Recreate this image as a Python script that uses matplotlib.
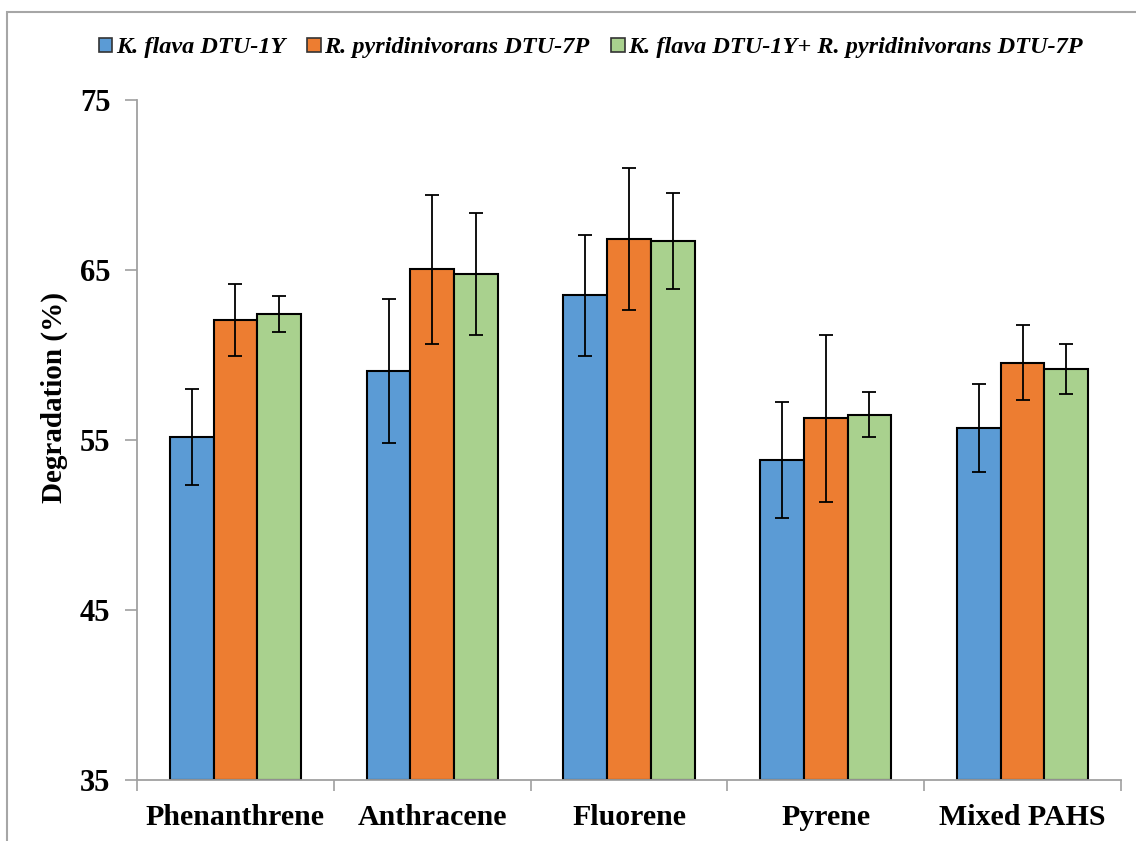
import numpy as np
import matplotlib.pyplot as plt
from matplotlib.patches import Rectangle
from matplotlib.ticker import FixedLocator

compounds = ["Phenanthrene", "Anthracene", "Fluorene", "Pyrene", "Mixed PAHS"]
series_names = ["K. flava DTU-1Y", "R. pyridinivorans DTU-7P",
                "K. flava DTU-1Y+ R. pyridinivorans DTU-7P"]

kflava = [55.18, 59.05, 63.51, 53.84, 55.69]
kflava_err = [2.80, 4.22, 3.55, 3.42, 2.60]
rpyr = [62.06, 65.04, 66.84, 56.28, 59.54]
rpyr_err = [2.10, 4.40, 4.17, 4.90, 2.20]
combo = [62.43, 64.77, 66.70, 56.50, 59.18]
combo_err = [1.05, 3.58, 2.83, 1.30, 1.49]

colors = ["#5B9BD5", "#ED7D31", "#A9D18E"]

plt.rcParams["font.family"] = ["Liberation Serif", "DejaVu Serif"]
plt.rcParams["font.weight"] = "bold"

fig = plt.figure(figsize=(11.36, 8.41), dpi=100)
ax = fig.add_axes([137 / 1136, 1 - 780 / 841, (1121 - 137) / 1136, 680 / 841])

x = np.arange(len(compounds))
width = 0.222
data = [(kflava, kflava_err), (rpyr, rpyr_err), (combo, combo_err)]
for i, (vals, errs) in enumerate(data):
    pos = x + (i - 1) * width
    ax.bar(pos, np.array(vals) - 35, width, bottom=35, color=colors[i],
           edgecolor="black", linewidth=1.5, label=series_names[i], zorder=2)
    ax.errorbar(pos, vals, yerr=errs, fmt="none", ecolor="black",
                elinewidth=1.3, capsize=5, capthick=1.3, zorder=3)

ax.set_xlim(-0.5, len(compounds) - 0.5)
ax.set_ylim(35, 75)
ax.set_yticks([35, 45, 55, 65, 75])
ax.set_xticks(x)
ax.set_xticklabels(compounds, fontsize=21.5, fontweight="bold")
ax.xaxis.set_minor_locator(FixedLocator(np.arange(-0.5, len(compounds), 1.0)))
ax.tick_params(axis="x", which="major", length=0, pad=17)
ax.tick_params(axis="x", which="minor", length=8, color="#a0a0a0", width=1.2)
ax.tick_params(axis="y", labelsize=22, length=9, color="#a0a0a0", width=1.2, pad=10)
for lbl in ax.get_yticklabels():
    lbl.set_fontweight("bold")

ax.set_ylabel("Degradation (%)", fontsize=21, fontweight="bold")
ax.yaxis.set_label_coords(-0.07, 0.562)

for side in ["top", "right"]:
    ax.spines[side].set_visible(False)
for side in ["left", "bottom"]:
    ax.spines[side].set_color("#a0a0a0")
    ax.spines[side].set_linewidth(1.3)

leg = fig.legend(loc="center", bbox_to_anchor=(591 / 1136, 1 - 48 / 841), ncol=3,
                 frameon=False, handlelength=0.55, handleheight=0.55,
                 handletextpad=0.15, columnspacing=0.9,
                 prop={"size": 17.5, "weight": "bold", "style": "italic"})
for h in leg.legend_handles:
    h.set_edgecolor("#333333")
    h.set_linewidth(1.2)

# outer chart frame
fig.patches.append(Rectangle((7 / 1136, -0.05), 1.1, 1 - 12 / 841 + 0.05,
                             transform=fig.transFigure, fill=False,
                             edgecolor="#a6a6a6", linewidth=1.5))

fig.savefig("out.png", dpi=100)
